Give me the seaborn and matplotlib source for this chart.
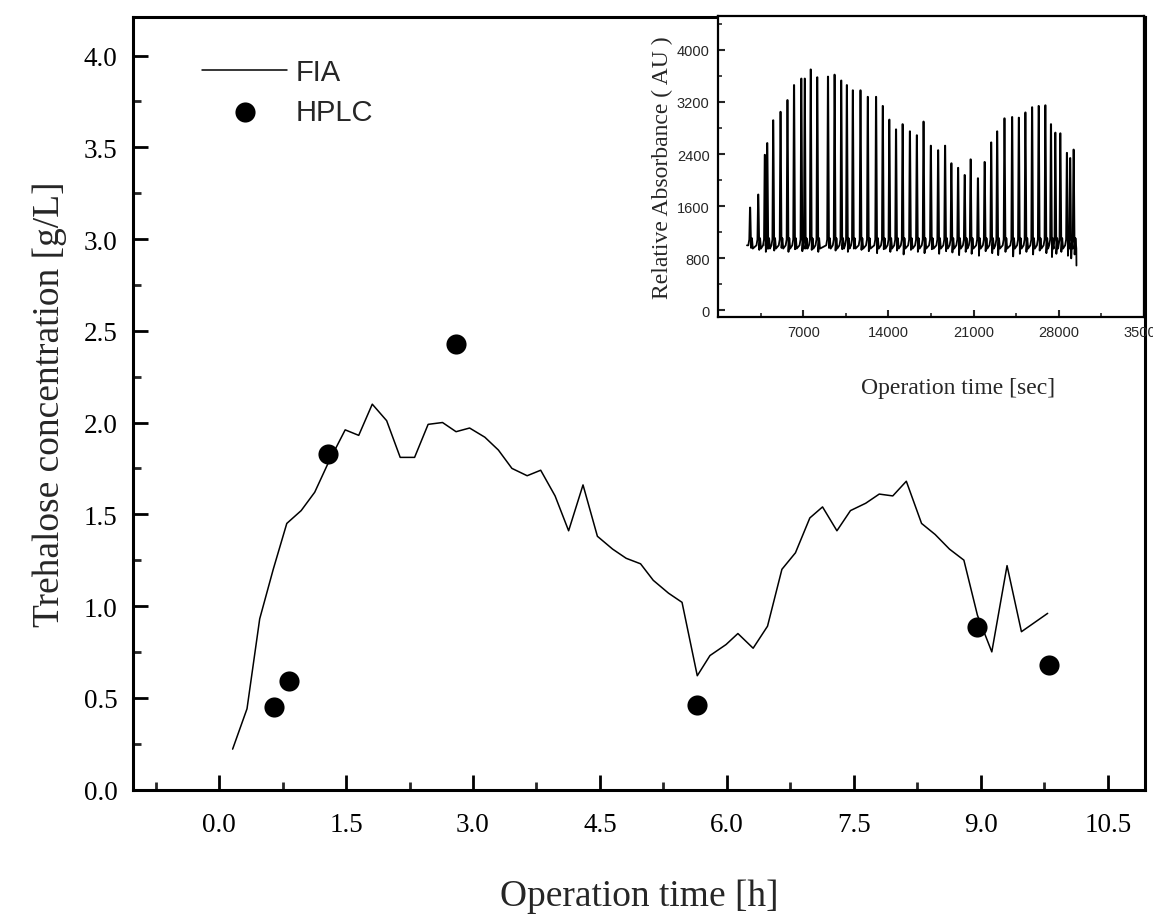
import numpy as np
import pandas as pd
import matplotlib
matplotlib.use("Agg")
import matplotlib.pyplot as plt
import seaborn as sns
from matplotlib.ticker import MultipleLocator

# ---------------- data ----------------
# Main panel: FIA on-line measurement [h, g/L]
fia_time = [0.16, 0.33, 0.48, 0.64, 0.80, 0.97, 1.13, 1.29, 1.49, 1.65,
            1.81, 1.98, 2.14, 2.31, 2.47, 2.64, 2.80, 2.96, 3.14, 3.30,
            3.46, 3.64, 3.80, 3.97, 4.13, 4.30, 4.47, 4.65, 4.81, 4.98,
            5.13, 5.31, 5.47, 5.65, 5.80, 5.99, 6.13, 6.31, 6.48, 6.65,
            6.81, 6.98, 7.13, 7.30, 7.46, 7.64, 7.80, 7.96, 8.12, 8.30,
            8.46, 8.63, 8.80, 8.96, 9.13, 9.31, 9.48, 9.79]
fia_conc = [0.22, 0.44, 0.93, 1.20, 1.45, 1.52, 1.62, 1.78, 1.96, 1.93,
            2.10, 2.01, 1.81, 1.81, 1.99, 2.00, 1.95, 1.97, 1.92, 1.85,
            1.75, 1.71, 1.74, 1.60, 1.41, 1.66, 1.38, 1.31, 1.26, 1.23,
            1.14, 1.07, 1.02, 0.62, 0.73, 0.79, 0.85, 0.77, 0.89, 1.20,
            1.29, 1.48, 1.54, 1.41, 1.52, 1.56, 1.61, 1.60, 1.68, 1.45,
            1.39, 1.31, 1.25, 0.95, 0.75, 1.22, 0.86, 0.96]

# Main panel: HPLC off-line samples [h, g/L]
hplc_time = [0.65, 0.83, 1.29, 2.80, 5.65, 8.96, 9.81]
hplc_conc = [0.45, 0.59, 1.83, 2.43, 0.46, 0.885, 0.68]

# Inset: FIA raw signal, peak times [s], peak heights and following dips [AU]
peak_time = [2650, 3320, 3860, 4060, 4550, 5150, 5720, 6260, 6860, 7140,
             7630, 8170, 9050, 9590, 10140, 10600, 11090, 11720, 12320, 13000,
             13550, 14090, 14640, 15180, 15780, 16350, 16900, 17500, 18100, 18670,
             19190, 19740, 20280, 20770, 21370, 21920, 22460, 22950, 23550, 24180,
             24730, 25270, 25820, 26360, 26910, 27370, 27730, 28140, 28680, 28950,
             29230]
peak_height = [1580, 1780, 2390, 2570, 2920, 3050, 3230, 3460, 3560, 3560,
               3700, 3580, 3590, 3620, 3530, 3460, 3380, 3380, 3280, 3280,
               3140, 2930, 2780, 2860, 2750, 2690, 2900, 2530, 2460, 2530,
               2260, 2190, 2080, 2320, 2030, 2280, 2580, 2750, 2950, 2970,
               2960, 3040, 3120, 3140, 3150, 2860, 2730, 2720, 2420, 2340,
               2470]
dip_height = [960, 930, 900, 950, 920, 960, 900, 940, 910, 950,
              930, 900, 960, 920, 940, 900, 950, 930, 910, 880,
              940, 900, 920, 860, 930, 900, 880, 940, 870, 910,
              890, 850, 900, 870, 840, 910, 880, 850, 900, 830,
              870, 900, 860, 920, 880, 820, 870, 900, 840, 800,
              860]
baseline_level = [1000, 1090, 1110, 950]   # baseline wiggle around each peak
signal_start = 2380
signal_end = (29450, 690)

# Tick labels
main_xticks = [0.0, 1.5, 3.0, 4.5, 6.0, 7.5, 9.0, 10.5]
main_yticks = [0.0, 0.5, 1.0, 1.5, 2.0, 2.5, 3.0, 3.5, 4.0]
inset_xticks = [7000, 14000, 21000, 28000, 35000]
inset_yticks = [0, 800, 1600, 2400, 3200, 4000]

# ---------------- data frames ----------------
fia_df = pd.DataFrame({"time": fia_time, "conc": fia_conc})
hplc_df = pd.DataFrame({"time": hplc_time, "conc": hplc_conc})

sig_t, sig_v = [signal_start], [baseline_level[0]]
for t, p, d in zip(peak_time, peak_height, dip_height):
    sig_t += [t - 160, t - 80, t - 25, t, t + 25, t + 70, t + 140, t + 210]
    sig_v += [baseline_level[0], baseline_level[1], p, p, p * 0.6 + d * 0.4, d,
              baseline_level[2], baseline_level[3]]
sig_t.append(signal_end[0])
sig_v.append(signal_end[1])
sig_df = pd.DataFrame({"t": sig_t, "v": sig_v})

# ---------------- style ----------------
sns.set_style("ticks")
plt.rcParams['font.family'] = ['Liberation Serif', 'DejaVu Serif']
plt.rcParams['axes.linewidth'] = 2.2

W, H = 1153, 920
fig = plt.figure(figsize=(W / 100, H / 100), dpi=100)
fig.patch.set_facecolor("white")

# main axes box (pixel geometry of the reference)
L, R, B, T = 133, 1145, 790.5, 18
ax = fig.add_axes([L / W, (H - B) / H, (R - L) / W, (B - T) / H])

sns.lineplot(data=fia_df, x="time", y="conc", ax=ax, color="black",
             linewidth=1.1, label="FIA", sort=False, estimator=None)
sns.scatterplot(data=hplc_df, x="time", y="conc", ax=ax, color="black",
                s=210, edgecolor="black", linewidth=0, label="HPLC", zorder=5)

ax.set_xlim(-1.017, 10.94)
ax.set_ylim(0, 4.21)
ax.set_xticks(main_xticks)
ax.set_xticklabels([f"{v:.1f}" for v in main_xticks])
ax.set_yticks(main_yticks)
ax.set_yticklabels([f"{v:.1f}" for v in main_yticks])
ax.xaxis.set_minor_locator(MultipleLocator(0.75))
ax.yaxis.set_minor_locator(MultipleLocator(0.25))
ax.tick_params(which="major", direction="in", length=11, width=2, labelsize=19.5,
               colors="black", top=False, right=False)
ax.tick_params(which="minor", direction="in", length=6, width=2,
               top=False, right=False)
ax.tick_params(axis="x", which="major", pad=16)
ax.tick_params(axis="y", which="major", pad=11)
for s in ax.spines.values():
    s.set_visible(True)
    s.set_linewidth(2.2)
    s.set_color("black")

ax.set_xlabel("Operation time [h]", fontsize=27, labelpad=30)
ax.set_ylabel("Trehalose concentration [g/L]", fontsize=27, labelpad=12)

leg = ax.legend(loc="upper left", bbox_to_anchor=(0.057, 0.962), borderaxespad=0,
                frameon=False, prop={"family": "Liberation Sans", "size": 21},
                handlelength=2.9, handletextpad=0.3, labelspacing=0.4,
                markerscale=1.0)

# ---------------- inset ----------------
iL, iR, iB, iT = 718, 1144, 318, 17
axin = fig.add_axes([iL / W, (H - iB) / H, (iR - iL) / W, (iB - iT) / H])
axin.set_facecolor("white")
sns.lineplot(data=sig_df, x="t", y="v", ax=axin, color="black", linewidth=1.3,
             sort=False, estimator=None)
axin.set_xlim(0, 35000)
axin.set_ylim(-100, 4520)
axin.set_xticks(inset_xticks)
axin.set_xticklabels([str(v) for v in inset_xticks])
axin.set_yticks(inset_yticks)
axin.set_yticklabels([str(v) for v in inset_yticks])
axin.xaxis.set_minor_locator(MultipleLocator(3500))
axin.yaxis.set_minor_locator(MultipleLocator(400))
axin.tick_params(which="major", direction="in", length=5, width=1.5,
                 labelsize=10.5, pad=6, top=False, right=False)
axin.tick_params(which="minor", direction="in", length=3, width=1.2,
                 top=False, right=False)
for lbl in axin.get_xticklabels() + axin.get_yticklabels():
    lbl.set_family("Liberation Sans")
for s in axin.spines.values():
    s.set_visible(True)
    s.set_linewidth(1.6)
    s.set_color("black")
axin.set_xlabel("Operation time [sec]", fontsize=17)
axin.xaxis.set_label_coords(0.564, -0.2)
axin.set_ylabel("Relative Absorbance ( AU )", fontsize=17, labelpad=3)

fig.savefig("out.png", dpi=100, facecolor="white")
